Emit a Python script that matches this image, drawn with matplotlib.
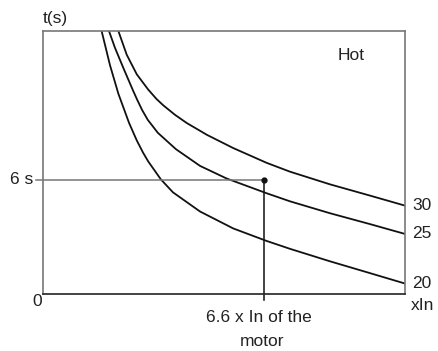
import matplotlib.pyplot as plt

# --- DADOS ---
# curvas de disparo, classe 20 / 25 / 30 (x = múltiplos de In, y = tempo em s)
x_20 = [1.75, 2.00, 2.25, 2.57, 2.80, 2.99, 3.14, 3.52, 3.88, 4.69,
        5.68, 6.68, 7.37, 8.57, 9.76, 10.81]
t_20 = [13.84, 12.04, 10.54, 9.00, 8.08, 7.43, 6.98, 6.03, 5.35, 4.34,
        3.45, 2.79, 2.38, 1.72, 1.10, 0.55]

x_25 = [1.97, 2.15, 2.40, 2.69, 2.81, 2.96, 3.13, 3.43, 3.97, 4.69,
        5.48, 6.68, 7.37, 8.57, 9.76, 10.81]
t_25 = [13.84, 12.95, 11.89, 10.70, 10.23, 9.68, 9.16, 8.48, 7.62, 6.74,
        6.08, 5.30, 4.88, 4.25, 3.68, 3.16]

x_30 = [2.25, 2.50, 2.80, 3.14, 3.39, 3.59, 3.94, 4.29, 4.90, 5.68,
        6.68, 7.37, 8.57, 9.76, 10.81]
t_30 = [13.84, 12.59, 11.56, 10.76, 10.26, 9.93, 9.43, 9.00, 8.37, 7.68,
        6.90, 6.44, 5.77, 5.18, 4.65]

classes = ['20', '25', '30']
x_motor = 6.6     # 6.6 x In
t_motor = 6.0     # 6 s
X_MAX = 10.81
T_MAX = 13.84
# ---------------------------------

plt.rcParams['font.family'] = ['Liberation Sans', 'DejaVu Sans']
fam = ['Liberation Sans', 'DejaVu Sans']
cor = '#222222'
fs = 12.5

fig = plt.figure(figsize=(4.38, 3.51), dpi=100)
ax = fig.add_axes([0.0982, 0.1624, 0.8265, 0.7493])

curvas = [(x_20, t_20), (x_25, t_25), (x_30, t_30)]
for (xs, ts), cl in zip(curvas, classes):
    ax.plot(xs, ts, color='#111111', lw=1.3, solid_joinstyle='round')
    # rótulo da classe à direita
    ax.annotate(cl, xy=(X_MAX, ts[-1]), xytext=(5, 0), textcoords='offset points',
                ha='left', va='center', fontsize=fs, color=cor,
                family=fam, annotation_clip=False)

# linhas de referência do motor
ax.plot([-0.21, x_motor], [t_motor, t_motor], color='#777777', lw=1.1, clip_on=False)
ax.plot([x_motor, x_motor], [t_motor, -0.32], color='#111111', lw=1.1, clip_on=False)
ax.plot([x_motor], [t_motor], 'o', color='#111111', ms=3.5, clip_on=False)

ax.set_xlim(0, X_MAX)
ax.set_ylim(0, T_MAX)
ax.set_xticks([])
ax.set_yticks([])

for lado in ['top', 'right', 'left']:
    ax.spines[lado].set_color('#777777')
    ax.spines[lado].set_linewidth(1.2)
ax.spines['bottom'].set_color('#222222')
ax.spines['bottom'].set_linewidth(1.2)

fig.text(43 / 438, 1 - 18 / 351, 't(s)', ha='left', va='center', fontsize=fs, color=cor, family=fam)
fig.text(351 / 438, 1 - 55 / 351, 'Hot', ha='center', va='center', fontsize=fs, color=cor, family=fam)
fig.text(33 / 438, 1 - 179 / 351, '6 s', ha='right', va='center', fontsize=fs, color=cor, family=fam)
fig.text(37 / 438, 1 - 302 / 351, '0', ha='center', va='center', fontsize=fs, color=cor, family=fam)
fig.text(411 / 438, 1 - 305 / 351, 'xIn', ha='left', va='center', fontsize=fs, color=cor, family=fam)
fig.text(259 / 438, 1 - 318 / 351, '6.6 x In of the', ha='center', va='center',
         fontsize=fs, color=cor, family=fam)
fig.text(262 / 438, 1 - 342 / 351, 'motor', ha='center', va='center',
         fontsize=fs, color=cor, family=fam)

plt.savefig('out.png', dpi=100)
plt.close()
